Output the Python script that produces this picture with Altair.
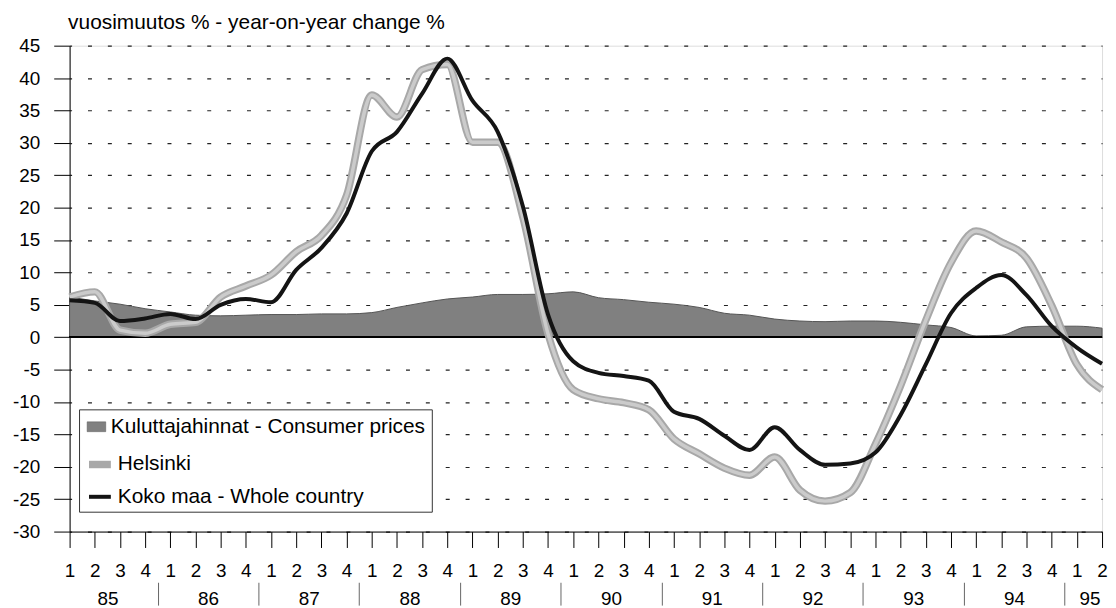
import altair as alt
import pandas as pd

FONT = "Liberation Sans"

CP = "Kuluttajahinnat - Consumer prices"
HE = "Helsinki"
KO = "Koko maa - Whole country"
TITLE = "vuosimuutos % - year-on-year change %"

# quarters 1985Q1 .. 1995Q2
years = ["85", "86", "87", "88", "89", "90", "91", "92", "93", "94", "95"]
quarter_no = [1, 2, 3, 4] * 10 + [1, 2]
quarter_year = [y for y in years[:-1] for _ in range(4)] + ["95", "95"]
quarter_index = list(range(len(quarter_no)))

koko_maa = [5.7, 5.3, 2.5, 2.9, 3.6, 2.8, 5.0, 5.9,
            5.4, 10.4, 13.8, 19.1, 28.7, 31.7, 37.6, 43.0,
            36.5, 31.7, 20.2, 3.5, -3.7, -5.5, -6.0, -6.7,
            -11.5, -12.6, -15.2, -17.4, -13.9, -17.4, -19.7, -19.5,
            -17.8, -12.0, -4.2, 3.7, 7.6, 9.6, 6.5, 1.7,
            -1.6, -4.1]
helsinki = [6.2, 7.0, 1.1, 0.6, 2.0, 2.3, 6.2, 7.9,
            9.6, 13.2, 15.7, 21.9, 37.4, 34.0, 41.3, 42.1,
            30.1, 30.1, 18.5, 0.5, -8.1, -9.5, -10.1, -11.2,
            -15.7, -18.0, -20.2, -21.3, -18.5, -23.6, -25.3, -24.0,
            -16.5, -7.5, 2.6, 11.5, 16.4, 14.7, 12.2, 4.9,
            -4.2, -8.1]
consumer_prices = [6.2, 5.6, 5.1, 4.4, 3.9, 3.4, 3.3, 3.4,
                   3.5, 3.5, 3.6, 3.6, 3.8, 4.6, 5.3, 5.9,
                   6.2, 6.6, 6.6, 6.7, 7.0, 6.1, 5.8, 5.4,
                   5.1, 4.6, 3.7, 3.4, 2.8, 2.5, 2.4, 2.5,
                   2.5, 2.3, 1.9, 1.5, 0.2, 0.3, 1.6, 1.7,
                   1.7, 1.4]

y_values = list(range(-30, 50, 5))

# year label positions = mean index of each year's quarters; separators between years
year_mid = []
for y in years:
    idx = [i for i, yy in zip(quarter_index, quarter_year) if yy == y]
    year_mid.append(sum(idx) / len(idx))
separators = [i + 0.5 for i, q in zip(quarter_index, quarter_no) if q == 4 and i < len(quarter_index) - 1]

df_lines = pd.DataFrame({
    "q": quarter_index * 2,
    "series": [HE] * len(quarter_index) + [KO] * len(quarter_index),
    "value": helsinki + koko_maa,
})
df_cp = pd.DataFrame({"q": quarter_index, "cpi": [CP] * len(quarter_index), "value": consumer_prices})
df_he = df_lines[df_lines.series == HE]
df_ko = df_lines[df_lines.series == KO]

xscale = alt.Scale(domain=[0, len(quarter_index) - 1], nice=False, zero=False)
yscale = alt.Scale(domain=[-30, 45], nice=False, zero=False)
fill_scale = alt.Scale(domain=[CP], range=["#808080"])
stroke_scale = alt.Scale(domain=[HE, KO], range=["#a8a8a8", "#141414"])
width_scale = alt.Scale(domain=[HE, KO], range=[7.5, 4])

LX, LY, ROW = 9.5, 366, 33.5

# boxed legend: the consumer-price entry, with two blank title lines reserving room for the line entries
legend_cp = alt.Legend(
    title=["\u00a0", "\u00a0"], titleOrient="bottom", titleFontSize=21, titleLineHeight=ROW,
    titlePadding=14, titleFont=FONT,
    orient="none", legendX=LX, legendY=LY, zindex=0,
    strokeColor="#333333", fillColor="white", padding=6,
    labelFont=FONT, labelFontSize=21, labelColor="black", labelOffset=3, labelLimit=600,
    symbolSize=484, symbolType="M-0.85,-0.45H0.85V0.45H-0.85Z",
    symbolStrokeColor="#555555", symbolStrokeWidth=0.5, symbolOpacity=1,
)
legend_lines = alt.Legend(
    title=None, orient="none", legendX=LX, legendY=LY + ROW + 1, zindex=1,
    padding=6, rowPadding=4.5,
    labelFont=FONT, labelFontSize=21, labelColor="black", labelOffset=3, labelLimit=600,
    symbolSize=484, symbolType="stroke", symbolOpacity=1,
)

y_axis = alt.Axis(
    values=y_values, labelExpr="'' + datum.value",
    tickSize=16, tickColor="black", domainColor="black",
    labelFont=FONT, labelFontSize=19, labelColor="black", labelPadding=14,
    grid=True, gridDash=[4, 16], gridDashOffset=2, gridColor="#222222", gridWidth=1.2,
    labelOverlap=False, labelFlush=False,
    title=TITLE, titleAngle=0, titleAlign="left", titleBaseline="alphabetic",
    titleX=-2, titleY=-17, titleFont=FONT, titleFontSize=21, titleFontWeight="normal",
    titleColor="black",
)
y_enc = alt.Y("value:Q", scale=yscale, axis=y_axis)

quarter_axis = alt.Axis(
    orient="bottom", values=quarter_index, title=None,
    labelExpr="'' + (datum.value % 4 + 1)",
    tickSize=16, tickColor="black", domainColor="black",
    labelFont=FONT, labelFontSize=19, labelColor="black", labelPadding=14,
    labelOverlap=False, labelFlush=False, labelBound=False, grid=False, labelAngle=0,
)
year_axis = alt.Axis(
    orient="bottom", values=year_mid, title=None, offset=51,
    labelExpr="'' + (85 + floor(datum.value / 4))",
    ticks=False, tickSize=0, domain=False,
    labelFont=FONT, labelFontSize=19, labelColor="black", labelPadding=7,
    labelOverlap=False, labelFlush=False, labelBound=False, grid=False, labelAngle=0,
)
sep_axis = alt.Axis(
    orient="bottom", values=separators, title=None, offset=51,
    labels=False, tickSize=23, tickColor="#666666", tickWidth=1, domain=False, grid=False,
)

area = alt.Chart(df_cp).mark_area(interpolate="monotone", opacity=1, stroke="#555555", strokeWidth=1).encode(
    x=alt.X("q:Q", scale=xscale, axis=year_axis),
    y=y_enc,
    color=alt.Color("cpi:N", scale=fill_scale, legend=legend_cp),
)
zero = alt.Chart(df_cp).mark_rule(color="black", strokeWidth=1.2).encode(y=alt.datum(0, scale=yscale, axis=y_axis))

he_outer = alt.Chart(df_he).mark_line(interpolate="monotone").encode(
    x=alt.X("q:Q", scale=xscale, axis=sep_axis),
    y=y_enc,
    stroke=alt.Stroke("series:N", scale=stroke_scale, legend=legend_lines),
    strokeWidth=alt.StrokeWidth("series:N", scale=width_scale, legend=legend_lines),
)
he_inner = alt.Chart(df_he).mark_line(interpolate="monotone", strokeWidth=3.5, color="#cbcbcb").encode(
    x=alt.X("q:Q", scale=xscale, axis=None),
    y=y_enc,
)
ko = alt.Chart(df_ko).mark_line(interpolate="monotone").encode(
    x=alt.X("q:Q", scale=xscale, axis=quarter_axis),
    y=y_enc,
    stroke=alt.Stroke("series:N", scale=stroke_scale, legend=legend_lines),
    strokeWidth=alt.StrokeWidth("series:N", scale=width_scale, legend=legend_lines),
)

chart = alt.layer(area, zero, he_outer, he_inner, ko).resolve_scale(x="independent").properties(
    width=1039, height=489,
    autosize=alt.AutoSizeParams(type="none"),
    padding={"left": 62, "top": 36, "right": 6, "bottom": 75},
).configure_view(stroke=None).configure(background="white")

chart.save("out.html", embed_options={"renderer": "svg", "actions": False})
